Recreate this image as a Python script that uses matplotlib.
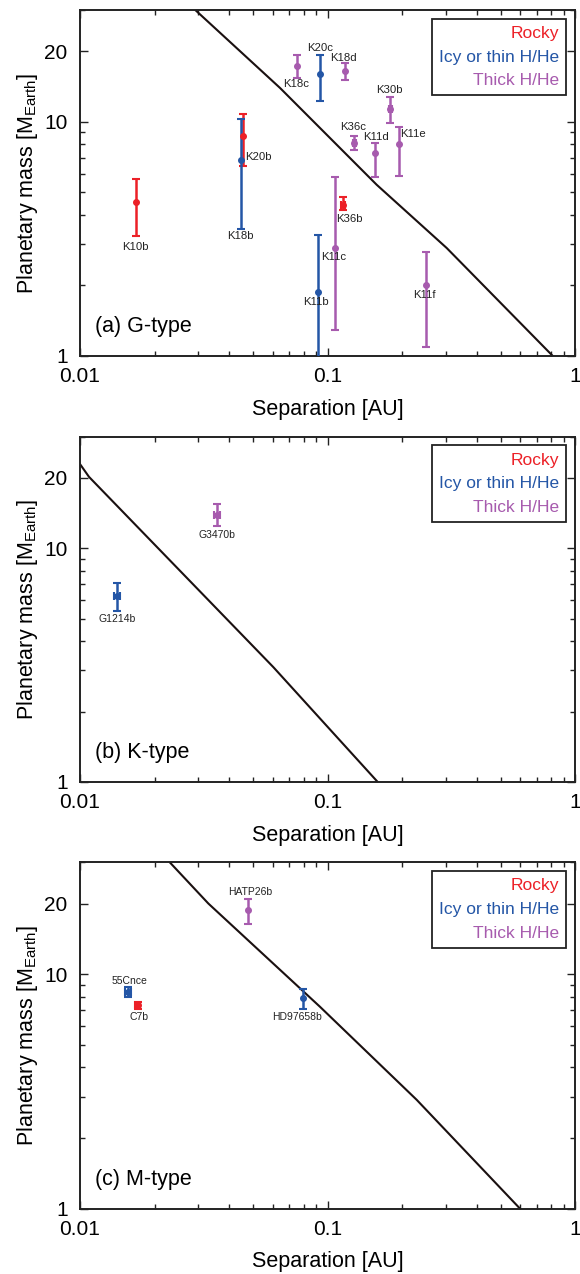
import numpy as np
import matplotlib
matplotlib.use("Agg")
import matplotlib.pyplot as plt
from matplotlib.ticker import FixedLocator, FixedFormatter, NullFormatter
from matplotlib.lines import Line2D

plt.rcParams['font.family'] = ['Liberation Sans', 'DejaVu Sans']
plt.rcParams['mathtext.fontset'] = 'custom'
plt.rcParams['mathtext.rm'] = 'Liberation Sans'
plt.rcParams['mathtext.it'] = 'Liberation Sans:italic'

RED = '#ec2027'
BLUE = '#2456a6'
PURPLE = '#a75bae'
kind_color = {'rocky': RED, 'icy': BLUE, 'thick': PURPLE}

# (a) G-type
g_names = ['K10b', 'K20b', 'K18b', 'K18c', 'K20c', 'K11b', 'K11c', 'K36b',
           'K18d', 'K36c', 'K11d', 'K30b', 'K11e', 'K11f']
g_sep = [0.0168, 0.0454, 0.0447, 0.0753, 0.0930, 0.0913, 0.107, 0.1152,
         0.1174, 0.1284, 0.1556, 0.1794, 0.195, 0.250]
g_mass = [4.55, 8.71, 6.86, 17.35, 16.0, 1.88, 2.89, 4.43,
          16.5, 8.08, 7.32, 11.33, 8.03, 2.0]
g_hi = [5.71, 10.8, 10.27, 19.2, 19.3, 3.27, 5.78, 4.78,
        17.8, 8.65, 8.08, 12.7, 9.52, 2.79]
g_lo = [3.26, 6.5, 3.48, 15.4, 12.3, 0.9, 1.29, 4.18,
        15.0, 7.59, 5.78, 9.87, 5.89, 1.096]
g_sep_err = [0, 0, 0, 0, 0, 0, 0, 0.002, 0, 0.002, 0, 0.003, 0, 0]
g_kind = ['rocky', 'rocky', 'icy', 'thick', 'icy', 'icy', 'thick', 'rocky',
          'thick', 'thick', 'thick', 'thick', 'thick', 'thick']
g_line_sep = [0.0290, 0.0643, 0.158, 0.303, 0.813]
g_line_mass = [30.2, 13.93, 5.38, 2.89, 1.0]

# (b) K-type
k_names = ['G1214b', 'G3470b']
k_sep = [0.01407, 0.03567]
k_mass = [6.22, 13.88]
k_hi = [7.09, 15.4]
k_lo = [5.37, 12.4]
k_sep_err = [0.0004, 0.001]
k_kind = ['icy', 'thick']
k_line_sep = [0.01, 0.01087, 0.0604, 0.1595]
k_line_mass = [22.9, 20.2, 3.1, 1.0]

# (c) M-type
m_names = ['55Cnce', 'C7b', 'HATP26b', 'HD97658b']
m_sep = [0.01563, 0.0171, 0.0479, 0.0796]
m_mass = [8.36, 7.38, 18.68, 7.88]
m_hi = [8.78, 7.62, 20.9, 8.63]
m_lo = [7.98, 7.07, 16.3, 7.09]
m_sep_err = [0.0004, 0.0004, 0, 0]
m_kind = ['icy', 'rocky', 'thick', 'icy']
m_line_sep = [0.0231, 0.033, 0.0932, 0.2293, 0.5995]
m_line_mass = [29.9, 20.0, 7.26, 2.91, 1.0]

legend_labels = ['Rocky', 'Icy or thin H/He', 'Thick H/He']

# label offsets (pixels: right, up) from each point
g_off = [(0, -45), (16, -21), (-1, -76), (-1, -18), (0, 26), (-2, -10), (-1, -9),
         (7, -14), (-1, 13), (-1, 16), (1, 16), (-1, 19), (14, 10), (-2, -10)]
k_off = [(0, -23), (0, -20)]
m_off = [(1, 11), (1, -12), (2, 18), (-6, -19)]

fig = plt.figure(figsize=(5.8, 12.74), dpi=100)
ax_a = fig.add_axes([0.138, 0.7206, 0.8534, 0.2716])
ax_b = fig.add_axes([0.138, 0.3862, 0.8534, 0.2710])
ax_c = fig.add_axes([0.138, 0.0513, 0.8534, 0.2719])

panels = [
    (ax_a, '(a) G-type', g_names, g_sep, g_mass, g_lo, g_hi, g_sep_err, g_kind,
     g_line_sep, g_line_mass, g_off, 8.2),
    (ax_b, '(b) K-type', k_names, k_sep, k_mass, k_lo, k_hi, k_sep_err, k_kind,
     k_line_sep, k_line_mass, k_off, 7.5),
    (ax_c, '(c) M-type', m_names, m_sep, m_mass, m_lo, m_hi, m_sep_err, m_kind,
     m_line_sep, m_line_mass, m_off, 7.5),
]

for ax, title, names, sep, mass, lo, hi, sep_err, kind, lsep, lmass, off, lfs in panels:
    ax.set_xscale('log')
    ax.set_yscale('log')
    ax.plot(lsep, lmass, color='#1a1010', lw=1.5, zorder=2)
    for i in range(len(names)):
        c = kind_color[kind[i]]
        yerr = [[mass[i] - lo[i]], [hi[i] - mass[i]]]
        xerr = [[sep_err[i]], [sep_err[i]]] if sep_err[i] > 0 else None
        ax.errorbar([sep[i]], [mass[i]], yerr=yerr, xerr=xerr, fmt='o', color=c,
                    ms=4, lw=1.8, capsize=3, capthick=1.5, zorder=3)
        ax.annotate(names[i], (sep[i], mass[i]), xytext=(off[i][0] * 0.72, off[i][1] * 0.72),
                    textcoords='offset points', ha='center', va='center',
                    fontsize=lfs, color='#222222')
    ax.set_xlim(0.01, 1)
    ax.set_ylim(1, 30)
    ax.xaxis.set_major_locator(FixedLocator([0.01, 0.1, 1]))
    ax.xaxis.set_major_formatter(FixedFormatter(['0.01', '0.1', '1']))
    ax.xaxis.set_minor_locator(FixedLocator([0.02, 0.03, 0.04, 0.05, 0.06, 0.07, 0.08, 0.09,
                                             0.2, 0.3, 0.4, 0.5, 0.6, 0.7, 0.8, 0.9]))
    ax.xaxis.set_minor_formatter(NullFormatter())
    ax.yaxis.set_major_locator(FixedLocator([1, 10, 20]))
    ax.yaxis.set_major_formatter(FixedFormatter(['1', '10', '20']))
    ax.yaxis.set_minor_locator(FixedLocator([2, 3, 4, 5, 6, 7, 8, 9, 30]))
    ax.yaxis.set_minor_formatter(NullFormatter())
    ax.tick_params(which='both', direction='in', top=True, right=True, width=1, colors='#222222')
    ax.tick_params(which='major', length=6, labelsize=15, labelcolor='black')
    ax.tick_params(which='minor', length=3.5)
    ax.tick_params(axis='x', which='major', pad=8)
    ax.tick_params(axis='y', which='major', pad=9)
    for s in ax.spines.values():
        s.set_linewidth(1.4)
        s.set_color('#222222')
    ax.set_xlabel('Separation [AU]', fontsize=15.5, labelpad=9)
    ax.set_ylabel('Planetary mass [M$_{\\rm Earth}$]', fontsize=15.5)
    ax.yaxis.set_label_coords(-0.08, 0.5)
    ax.text(0.03, 0.085, title, transform=ax.transAxes, fontsize=15.5, va='center', ha='left')
    handles = [Line2D([], [], linestyle='none') for _ in legend_labels]
    leg = ax.legend(handles, legend_labels, loc='upper right', fontsize=12.5,
                    labelcolor=[RED, BLUE, PURPLE], markerfirst=False,
                    handlelength=0, handletextpad=0, borderpad=0.4, labelspacing=0.5,
                    fancybox=False, framealpha=1, edgecolor='#222222', borderaxespad=0.5)
    leg.get_frame().set_linewidth(1.3)

fig.savefig('out.png', dpi=100)
